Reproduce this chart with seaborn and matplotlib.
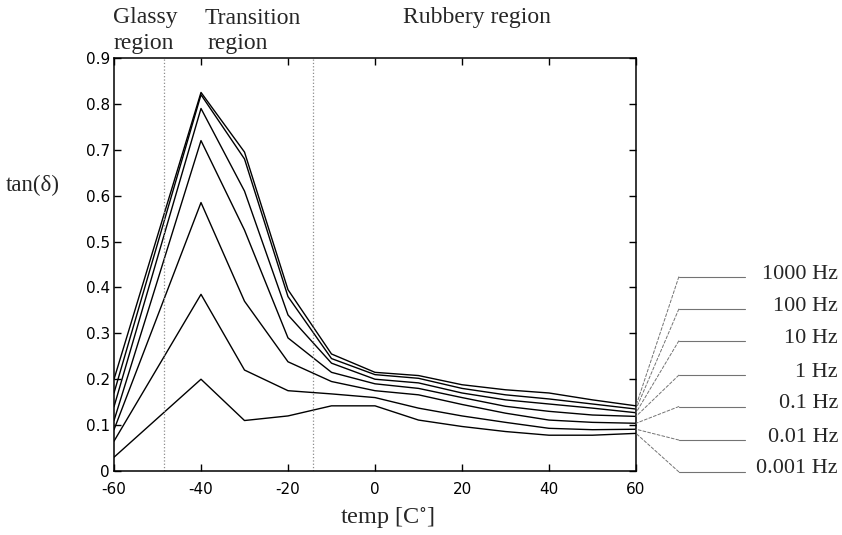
import matplotlib
matplotlib.use("Agg")
import matplotlib.pyplot as plt
import pandas as pd
import seaborn as sns

# temperature points [C]
temps = [-60, -40, -30, -20, -10, 0, 10, 20, 30, 40, 50, 60]

# tan(delta) curves, one per frequency
freqs = ['1000 Hz', '100 Hz', '10 Hz', '1 Hz', '0.1 Hz', '0.01 Hz', '0.001 Hz']
tan_1000 = [0.20, 0.825, 0.695, 0.395, 0.255, 0.215, 0.208, 0.188, 0.177, 0.170, 0.155, 0.142]
tan_100 = [0.17, 0.820, 0.680, 0.380, 0.245, 0.210, 0.202, 0.180, 0.166, 0.157, 0.146, 0.135]
tan_10 = [0.14, 0.790, 0.610, 0.340, 0.235, 0.200, 0.192, 0.170, 0.155, 0.146, 0.137, 0.127]
tan_1 = [0.11, 0.720, 0.525, 0.290, 0.215, 0.190, 0.180, 0.160, 0.141, 0.130, 0.122, 0.119]
tan_01 = [0.09, 0.585, 0.370, 0.238, 0.195, 0.175, 0.166, 0.145, 0.126, 0.111, 0.106, 0.104]
tan_001 = [0.065, 0.385, 0.220, 0.175, 0.168, 0.160, 0.137, 0.120, 0.106, 0.093, 0.090, 0.091]
tan_0001 = [0.03, 0.200, 0.110, 0.120, 0.142, 0.142, 0.111, 0.097, 0.086, 0.078, 0.078, 0.082]
all_series = [tan_1000, tan_100, tan_10, tan_1, tan_01, tan_001, tan_0001]

# region boundaries (dotted lines)
boundaries = [-48.5, -14.3]

rows = []
for f, vals in zip(freqs, all_series):
    for t, v in zip(temps, vals):
        rows.append({'temp': t, 'tan': v, 'freq': f})
df = pd.DataFrame(rows)

sns.set_style("ticks")
plt.rcParams['font.family'] = ['DejaVu Sans']
plt.rcParams['mathtext.fontset'] = 'stix'
plt.rcParams['axes.unicode_minus'] = False

fig = plt.figure(figsize=(8.42, 5.35), dpi=100)
ax = fig.add_axes([114 / 842, 1 - 471 / 535, 522 / 842, 413 / 535])

sns.lineplot(data=df, x='temp', y='tan', hue='freq', hue_order=freqs,
             palette=['black'] * len(freqs), linewidth=1.0, legend=False, ax=ax)

for b in boundaries:
    ax.axvline(b, color='0.55', linestyle=':', linewidth=0.9)

ax.set_xlim(-60, 60)
ax.set_ylim(0, 0.9)
ax.set_xticks([-60, -40, -20, 0, 20, 40, 60])
ax.set_yticks([i / 10 for i in range(10)])
ax.set_yticklabels(['0'] + ['0.%d' % i for i in range(1, 10)])
ax.tick_params(direction='in', top=True, right=True, length=5, width=1,
               labelsize=11, colors='black')
ax.tick_params(axis='x', pad=8)
ax.tick_params(axis='y', pad=3)
for s in ax.spines.values():
    s.set_linewidth(1.1)
    s.set_color('black')
ax.set_xlabel('')
ax.set_ylabel('')

serif = ['Liberation Serif', 'DejaVu Serif']

# labels for each frequency, connected to the end of each curve
label_y = [0.470, 0.392, 0.315, 0.232, 0.156, 0.075, -0.002]
for f, vals, ly in zip(freqs, all_series, label_y):
    ax.annotate('', xy=(60, vals[-1]), xycoords='data',
                xytext=(1.082, ly), textcoords='axes fraction',
                arrowprops=dict(arrowstyle='-', linestyle=(0, (3, 2)),
                                color='0.45', linewidth=0.7,
                                shrinkA=0, shrinkB=0),
                annotation_clip=False)
    ax.plot([1.082, 1.209], [ly, ly], transform=ax.transAxes, clip_on=False,
            color='0.45', linewidth=0.8)
    ax.text(1.387, ly - 0.004, f, transform=ax.transAxes, ha='right',
            va='baseline', fontsize=16, family=serif)

# region captions
fig.text(113 / 842, 1 - 18 / 535, 'Glassy', fontsize=17, family=serif,
         ha='left', va='center')
fig.text(113 / 842, 1 - 43 / 535, 'region', fontsize=17, family=serif,
         ha='left', va='center')
fig.text(205 / 842, 1 - 18 / 535, 'Transition', fontsize=17, family=serif,
         ha='left', va='center')
fig.text(208 / 842, 1 - 43 / 535, 'region', fontsize=17, family=serif,
         ha='left', va='center')
fig.text(403 / 842, 1 - 18 / 535, 'Rubbery region', fontsize=17, family=serif,
         ha='left', va='center')

fig.text(33 / 842, 1 - 185 / 535, 'tan(δ)', fontsize=16.5, family=serif,
         ha='center', va='center')
fig.text(387 / 842, 1 - 517 / 535, r'temp [C$^{\circ}$]', fontsize=17.5,
         family=serif, ha='center', va='center')

fig.savefig('out.png', dpi=100)
